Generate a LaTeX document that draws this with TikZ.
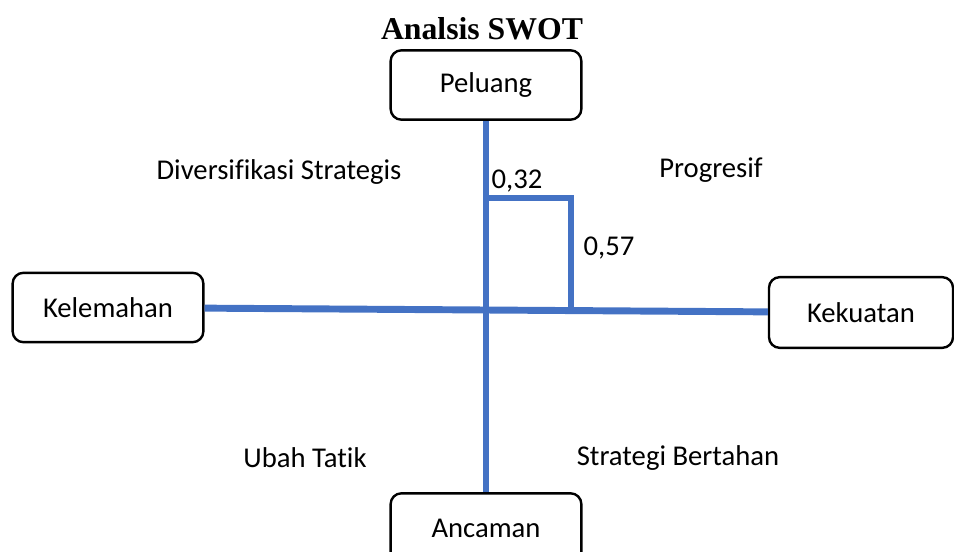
\documentclass[tikz,border=0pt]{standalone}
\usepackage{fontspec}
\setmainfont{Carlito}[Ligatures=NoCommon]
\newfontfamily\judulfont{Liberation Serif}
\definecolor{swotblue}{HTML}{4472C4}

\begin{document}
\begin{tikzpicture}[x=0.75pt,y=-0.75pt,
  kotak/.style={draw,line width=1.8pt,rounded corners=8pt,minimum width=143pt,minimum height=52pt,font=\fontsize{21.5}{24}\selectfont},
  garis/.style={swotblue,line width=5.2pt},
  teks/.style={font=\fontsize{21.5}{24}\selectfont}]
  \useasboundingbox (0,0) rectangle (954,552);
  \clip (0,0) rectangle (954,552);
  \node[font=\judulfont\bfseries\fontsize{23.8}{28}\selectfont] (judul) at (482,29) {Analsis SWOT};
  % kotak
  \node[kotak] (pel) at (486,85) {Peluang};
  \node[kotak] (kel) at (108,307.5) {Kelemahan};
  \node[kotak,minimum width=138pt,minimum height=53pt] (kek) at (861,312.5) {Kekuatan};
  \node[kotak] (anc) at (486,528) {Ancaman};
  % sumbu
  \draw[garis] (pel) -- (anc);
  \draw[garis] (kel) -- (kek);
  \coordinate (a1) at (486,198);
  \coordinate (a2) at (571,198);
  \coordinate (a3) at (571,313);
  \draw[garis,line join=miter] (a1) -- (a2) -- (a3);
  % label
  \node[teks] (divs) at (279,172) {Diversifikasi Strategis};
  \node[teks] (prog) at (711,170) {Progresif};
  \node[teks] (nx) at (517,181) {0,32};
  \node[teks] (ny) at (609,248) {0,57};
  \node[teks] (ubah) at (305,458) {Ubah Tatik};
  \node[teks] (bert) at (678,458) {Strategi Bertahan};
\end{tikzpicture}
\end{document}
